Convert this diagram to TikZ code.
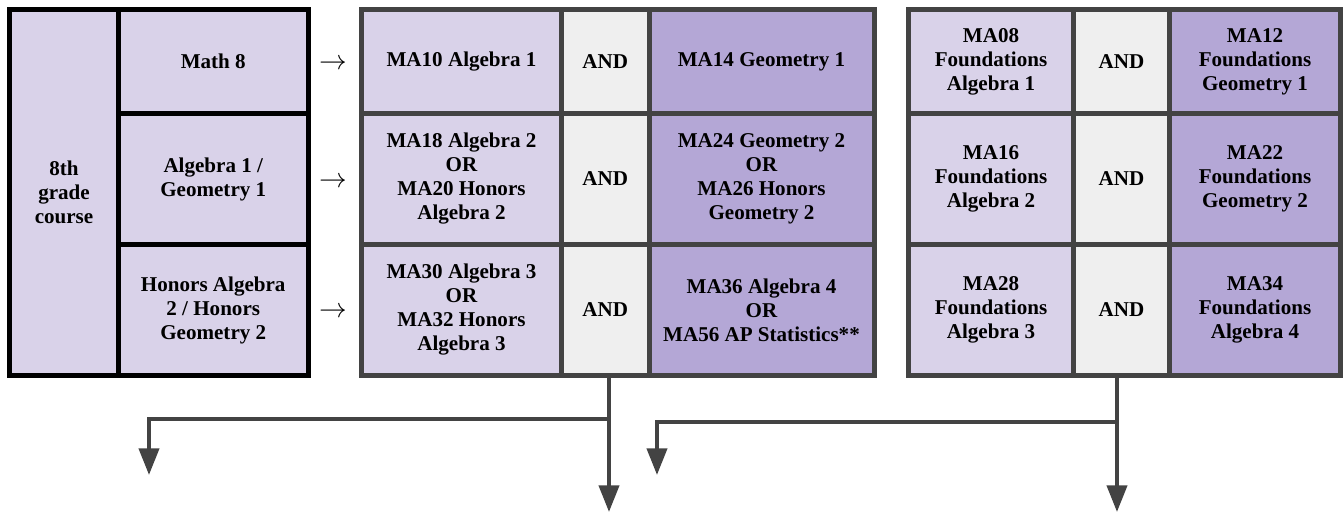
\documentclass[tikz,border=0pt]{standalone}
\usepackage{fontspec}
\setmainfont{Liberation Serif}[BoldFont={Liberation Serif Bold}]
\usepackage{xcolor}
\usepackage{tikz}
\usetikzlibrary{arrows.meta}

\definecolor{lav}{HTML}{D9D2E9}
\definecolor{plum}{HTML}{B4A7D6}
\definecolor{andgray}{HTML}{EFEFEF}
\definecolor{edge}{HTML}{434343}

\begin{document}
\begin{tikzpicture}[x=0.75pt, y=-0.75pt,
  cell/.style={rectangle, draw=edge, line width=3.75pt, inner sep=0pt, outer sep=0pt,
    align=center, font=\fontsize{15.8}{18}\selectfont\bfseries},
  blackcell/.style={cell, draw=black},
  rowA/.style={minimum height=78pt},
  rowB/.style={minimum height=98.25pt},
  nextarr/.style={inner sep=0pt, font=\fontsize{21}{24}\selectfont},
  flow/.style={draw=edge, line width=3pt, -{Triangle[length=20pt, width=15pt]}}]
  \useasboundingbox (0,0) rectangle (1343,514);

  % 8th grade courses
  \node[blackcell, fill=lav, minimum width=81.75pt, minimum height=274.5pt] (course) at (64,192.5) {8th\\grade\\course};
  \node[blackcell, fill=lav, rowA, minimum width=142.125pt] (math8) at (213.25,61.5) {Math 8};
  \node[blackcell, fill=lav, rowB, minimum width=142.125pt] (alg1) at (213.25,179) {Algebra 1 /\\Geometry 1};
  \node[blackcell, fill=lav, rowB, minimum width=142.125pt] (honors) at (213.25,310) {Honors Algebra\\2 / Honors\\Geometry 2};

  \node[nextarr] (arr1) at (333,64) {$\rightarrow$};
  \node[nextarr] (arr2) at (333,182) {$\rightarrow$};
  \node[nextarr] (arr3) at (333,312) {$\rightarrow$};

  % standard path
  \node[cell, fill=lav, rowA, minimum width=150pt] (algM1) at (461.5,61.5) {MA10 Algebra 1};
  \node[cell, fill=andgray, rowA, minimum width=65.625pt] (andM1) at (605.25,61.5) {AND};
  \node[cell, fill=plum, rowA, minimum width=168.75pt] (geoM1) at (761.5,61.5) {MA14 Geometry 1};
  \node[cell, fill=lav, rowB, minimum width=150pt] (algM2) at (461.5,179) {MA18 Algebra 2\\OR\\MA20 Honors\\Algebra 2};
  \node[cell, fill=andgray, rowB, minimum width=65.625pt] (andM2) at (605.25,179) {AND};
  \node[cell, fill=plum, rowB, minimum width=168.75pt] (geoM2) at (761.5,179) {MA24 Geometry 2\\OR\\MA26 Honors\\Geometry 2};
  \node[cell, fill=lav, rowB, minimum width=150pt] (algM3) at (461.5,310) {MA30 Algebra 3\\OR\\MA32 Honors\\Algebra 3};
  \node[cell, fill=andgray, rowB, minimum width=65.625pt] (andM3) at (605.25,310) {AND};
  \node[cell, fill=plum, rowB, minimum width=168.75pt] (geoM3) at (761.5,310) {MA36 Algebra 4\\OR\\MA56 AP Statistics**};

  % foundations path
  \node[cell, fill=lav, rowA, minimum width=123.75pt] (algR1) at (991,61.5) {MA08\\Foundations\\Algebra 1};
  \node[cell, fill=andgray, rowA, minimum width=72pt] (andR1) at (1121.5,61.5) {AND};
  \node[cell, fill=plum, rowA, minimum width=128.25pt] (geoR1) at (1255,61.5) {MA12\\Foundations\\Geometry 1};
  \node[cell, fill=lav, rowB, minimum width=123.75pt] (algR2) at (991,179) {MA16\\Foundations\\Algebra 2};
  \node[cell, fill=andgray, rowB, minimum width=72pt] (andR2) at (1121.5,179) {AND};
  \node[cell, fill=plum, rowB, minimum width=128.25pt] (geoR2) at (1255,179) {MA22\\Foundations\\Geometry 2};
  \node[cell, fill=lav, rowB, minimum width=123.75pt] (algR3) at (991,310) {MA28\\Foundations\\Algebra 3};
  \node[cell, fill=andgray, rowB, minimum width=72pt] (andR3) at (1121.5,310) {AND};
  \node[cell, fill=plum, rowB, minimum width=128.25pt] (geoR3) at (1255,310) {MA34\\Foundations\\Algebra 4};

  \coordinate (splitM) at (609,419);
  \coordinate (leftM) at (149,475);
  \coordinate (downM) at (609,512);
  \coordinate (splitR) at (1117,422);
  \coordinate (leftR) at (657,475);
  \coordinate (downR) at (1117,512);

  \draw[flow] (andM3.south -| splitM) -- (downM);
  \draw[flow] (splitM) -| (leftM);
  \draw[flow] (andR3.south -| splitR) -- (downR);
  \draw[flow] (splitR) -| (leftR);
\end{tikzpicture}
\end{document}
